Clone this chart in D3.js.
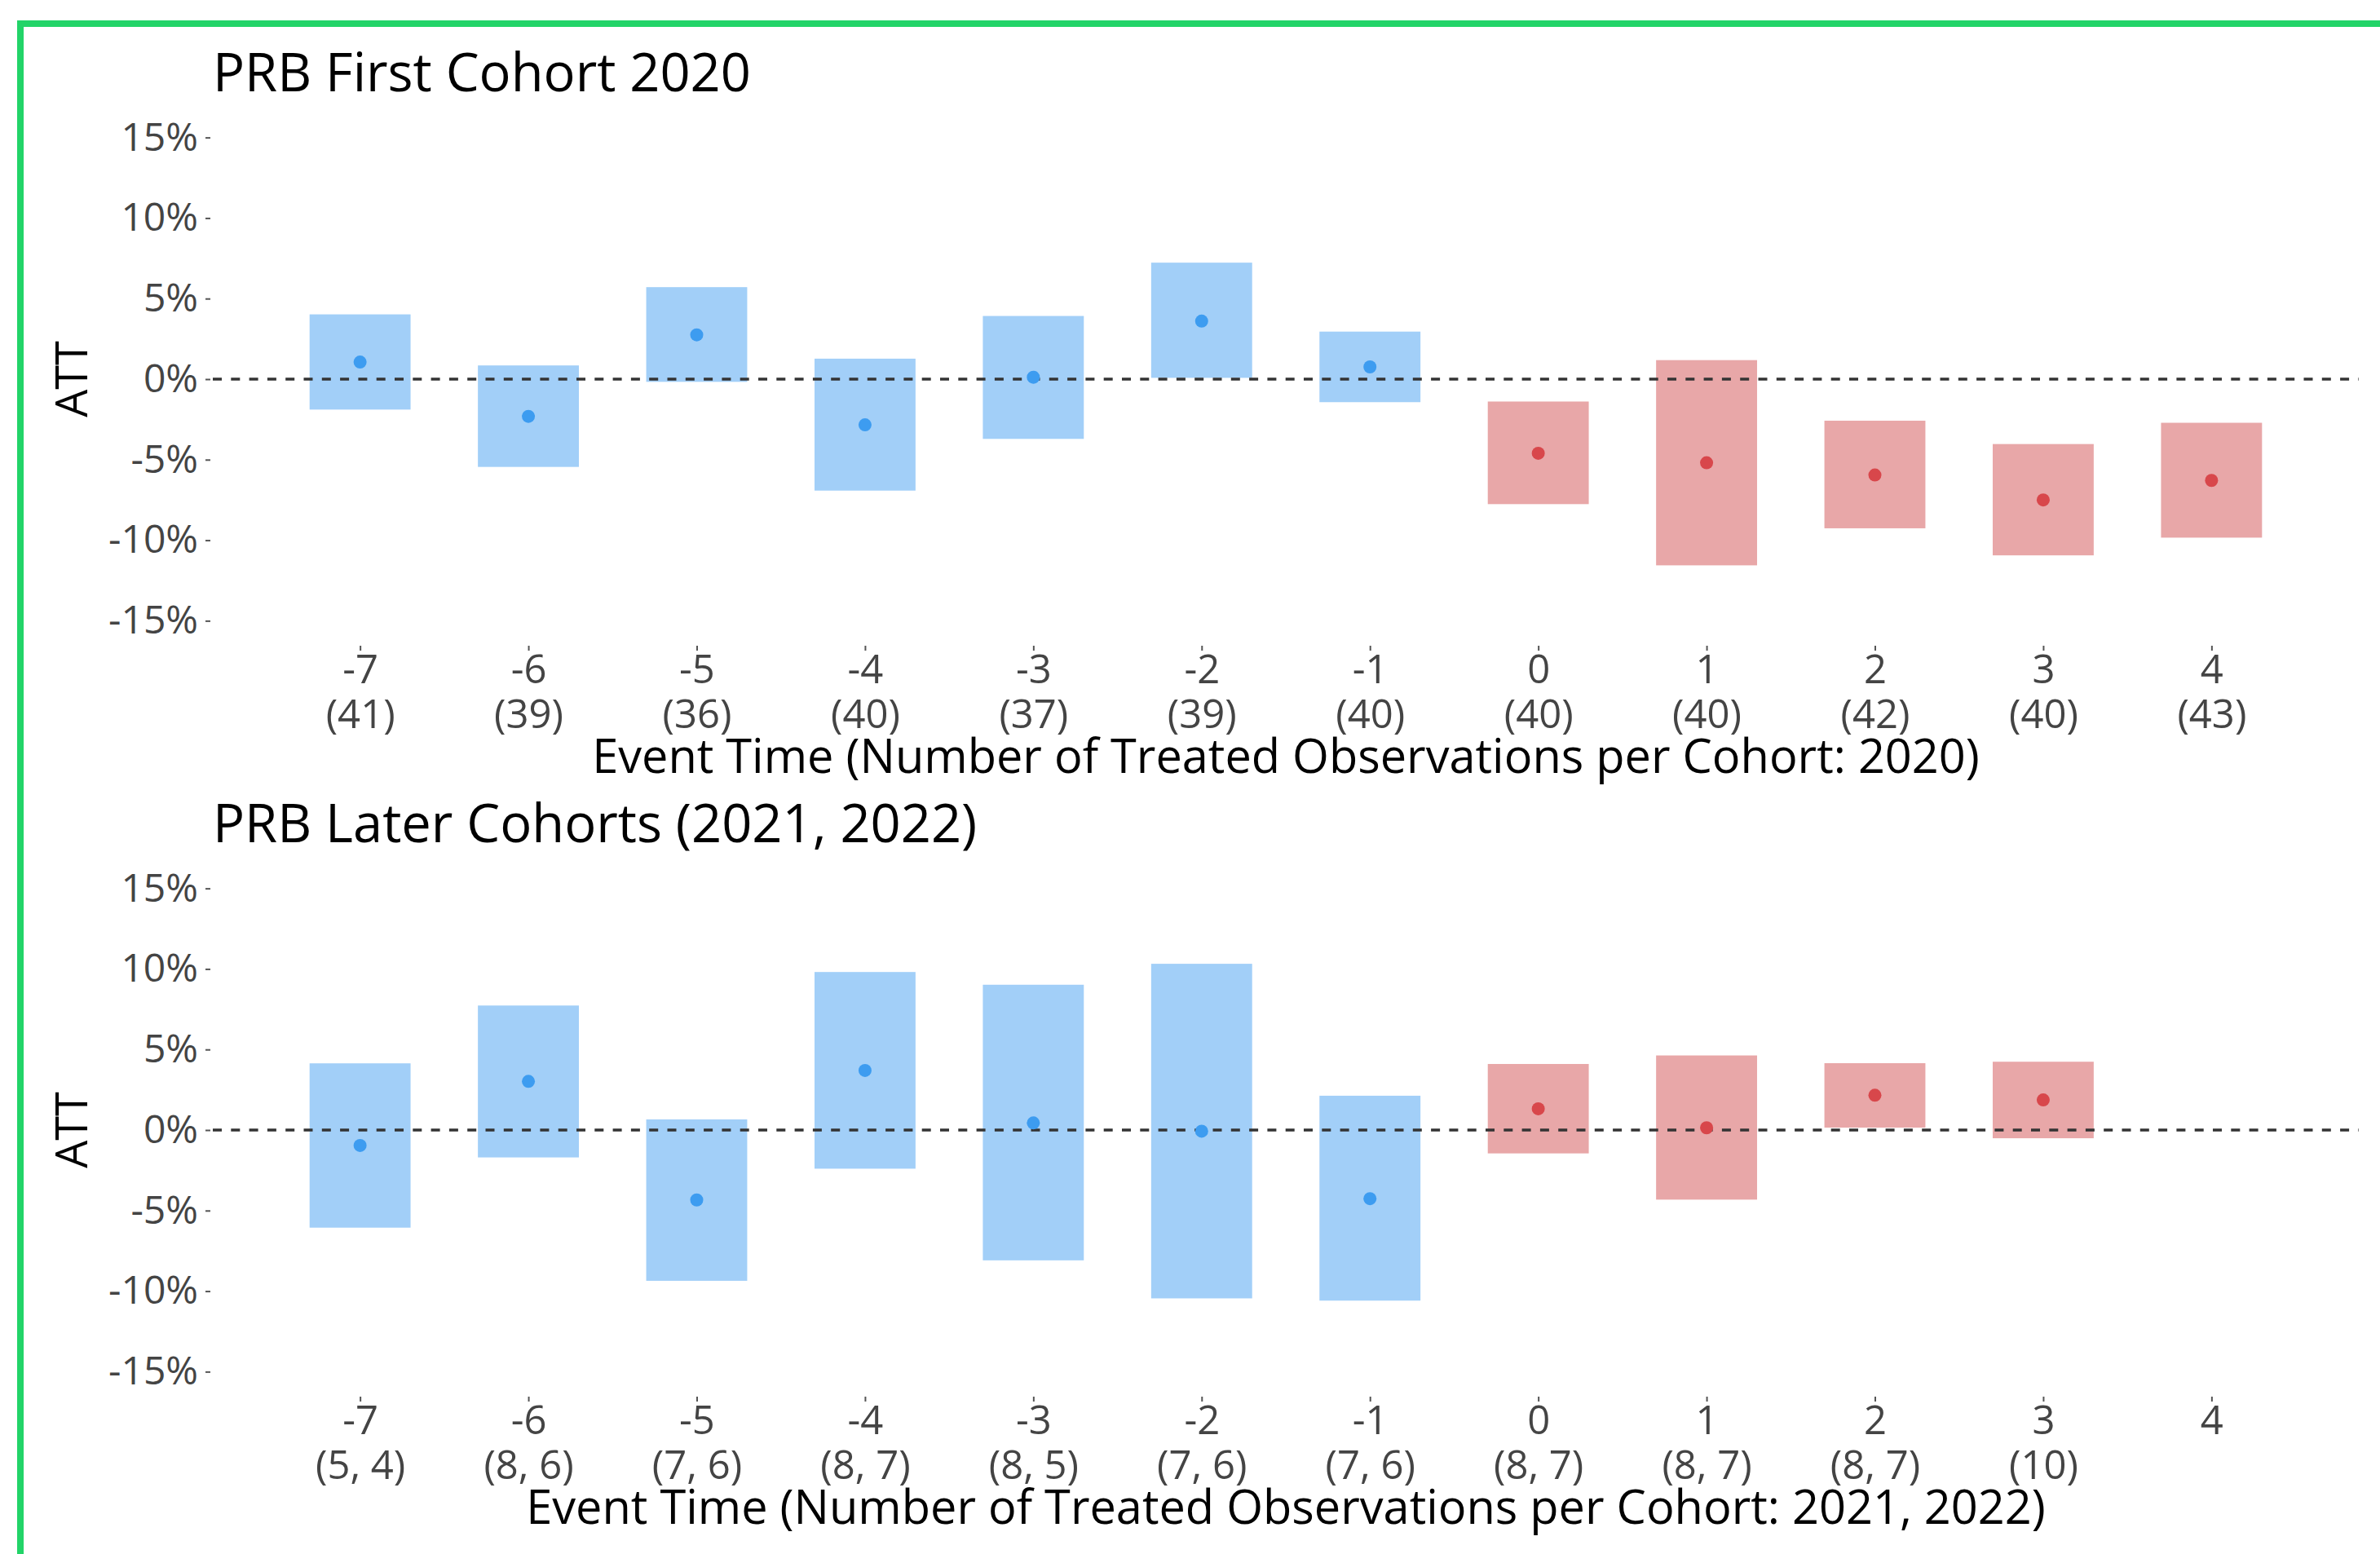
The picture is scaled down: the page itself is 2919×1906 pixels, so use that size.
<!DOCTYPE html>
<html>
<head>
<meta charset="utf-8">
<script src="https://cdn.jsdelivr.net/npm/d3@7"></script>
<style>
  body { margin: 0; background: #fff; }
  svg text { font-family: 'Open Sans', 'Noto Sans', sans-serif; }
</style>
</head>
<body>
<svg id="chart"></svg>
<script>
// event time categories
const eventTimes = [-7, -6, -5, -4, -3, -2, -1, 0, 1, 2, 3, 4];
const yTicks = [-15, -10, -5, 0, 5, 10, 15];

// first cohort (2020)
const firstCounts = ["(41)", "(39)", "(36)", "(40)", "(37)", "(39)", "(40)", "(40)", "(40)", "(42)", "(40)", "(43)"];
const firstEst  = [1.06, -2.31, 2.75, -2.84, 0.12, 3.60, 0.76, -4.60, -5.19, -5.95, -7.50, -6.29];
const firstLow  = [-1.89, -5.45, -0.17, -6.92, -3.71, 0.08, -1.43, -7.76, -11.56, -9.26, -10.94, -9.84];
const firstHigh = [4.02, 0.85, 5.71, 1.27, 3.92, 7.23, 2.95, -1.39, 1.18, -2.58, -4.03, -2.71];

// later cohorts (2021, 2022)
const laterCounts = ["(5, 4)", "(8, 6)", "(7, 6)", "(8, 7)", "(8, 5)", "(7, 6)", "(7, 6)", "(8, 7)", "(8, 7)", "(8, 7)", "(10)", ""];
const laterEst  = [-0.96, 3.02, -4.34, 3.70, 0.44, -0.07, -4.26, 1.32, 0.14, 2.16, 1.87, null];
const laterLow  = [-6.06, -1.70, -9.36, -2.40, -8.09, -10.45, -10.59, -1.45, -4.32, 0.15, -0.51, null];
const laterHigh = [4.14, 7.73, 0.66, 9.81, 9.02, 10.32, 2.13, 4.10, 4.63, 4.15, 4.24, null];

class EventPanel{

      constructor(config, data){
            this.config = {
                  parent: config.parent,
                  top: config.top || 0,
                  title: config.title || '',
                  xlabel: config.xlabel || '',
                  margin: {top:139, left:261, right:26, height:652}
            }
            this.data = data;
            this.init();
      }

      init(){
            let self = this;
            const m = self.config.margin;

            self.g = self.config.parent.append('g')
                  .attr('transform', `translate(0, ${self.config.top})`);

            self.xscale = d3.scaleLinear()
                  .domain([-7.875, 4.875])
                  .range([m.left, 2919 - m.right]);

            self.yscale = d3.scaleLinear()
                  .domain([-16.5, 16.5])
                  .range([m.top + m.height, m.top]);

            self.g.append('text')
                  .attr('x', m.left)
                  .attr('y', 112)
                  .style('font-size', '65px')
                  .attr('fill', '#000')
                  .text(self.config.title);

            self.g.append('text')
                  .attr('transform', `translate(107, ${self.yscale(0)}) rotate(-90)`)
                  .attr('text-anchor', 'middle')
                  .style('font-size', '54px')
                  .attr('fill', '#000')
                  .text('ATT');

            self.g.append('text')
                  .attr('x', (self.xscale.range()[0] + self.xscale.range()[1]) / 2)
                  .attr('y', m.top + m.height + 157)
                  .attr('text-anchor', 'middle')
                  .style('font-size', '57.7px')
                  .attr('fill', '#000')
                  .text(self.config.xlabel);
      }

      render(){
            let self = this;
            const m = self.config.margin;
            const rows = eventTimes.map((t, i) => ({
                  t: t, n: self.data.counts[i], est: self.data.est[i],
                  low: self.data.low[i], high: self.data.high[i]
            }));
            const shown = rows.filter(d => d.est !== null);
            const half = 0.3;
            const fillBar = d => d.t >= 0 ? '#e8a7a8' : '#a2cff8';
            const fillDot = d => d.t >= 0 ? '#d8474b' : '#3d9cf0';

            // y axis
            const yaxis = d3.axisLeft(self.yscale)
                  .tickValues(yTicks)
                  .tickSize(6)
                  .tickPadding(9)
                  .tickFormat(d => d + '%');
            const yg = self.g.append('g')
                  .attr('transform', `translate(${m.left - 3}, 0)`)
                  .call(yaxis);
            yg.select('.domain').remove();
            yg.selectAll('line').attr('stroke', '#555').attr('stroke-width', 2);
            yg.selectAll('text')
                  .attr('fill', '#444')
                  .style('font-size', '48px');

            // x axis: event time on one line, treated counts on the next
            const xaxis = d3.axisBottom(self.xscale)
                  .tickValues(eventTimes)
                  .tickSize(6)
                  .tickFormat('');
            const xg = self.g.append('g')
                  .attr('transform', `translate(0, ${m.top + m.height + 1})`)
                  .call(xaxis);
            xg.select('.domain').remove();
            xg.selectAll('line').attr('stroke', '#555').attr('stroke-width', 2);
            xg.selectAll('.tick').each(function(t, i){
                  const tick = d3.select(this);
                  tick.append('text')
                        .attr('text-anchor', 'middle')
                        .attr('fill', '#444')
                        .attr('y', 46)
                        .style('font-size', '49px')
                        .text(t);
                  tick.append('text')
                        .attr('text-anchor', 'middle')
                        .attr('fill', '#444')
                        .attr('y', 101)
                        .style('font-size', '49px')
                        .text(rows[i].n);
            });

            // confidence boxes
            self.g.selectAll('rect.ci')
                  .data(shown)
                  .join('rect')
                  .attr('class', 'ci')
                  .attr('x', d => self.xscale(d.t - half))
                  .attr('width', d => self.xscale(d.t + half) - self.xscale(d.t - half))
                  .attr('y', d => self.yscale(d.high))
                  .attr('height', d => self.yscale(d.low) - self.yscale(d.high))
                  .attr('fill', fillBar);

            // zero reference line
            self.g.append('line')
                  .attr('x1', self.xscale.range()[0])
                  .attr('x2', self.xscale.range()[1])
                  .attr('y1', self.yscale(0))
                  .attr('y2', self.yscale(0))
                  .attr('stroke', '#333')
                  .attr('stroke-width', 3.5)
                  .attr('stroke-dasharray', '11,11.3');

            // point estimates
            self.g.selectAll('circle.est')
                  .data(shown)
                  .join('circle')
                  .attr('class', 'est')
                  .attr('cx', d => self.xscale(d.t))
                  .attr('cy', d => self.yscale(d.est))
                  .attr('r', 8)
                  .attr('fill', fillDot);
      }
}

const svg = d3.select('#chart')
      .attr('width', 2919)
      .attr('height', 1906)
      .style('display', 'block');

svg.append('rect')
      .attr('width', 2919).attr('height', 1906)
      .attr('fill', '#fff');

const first = new EventPanel({
      parent: svg, top: 0,
      title: 'PRB First Cohort 2020',
      xlabel: 'Event Time (Number of Treated Observations per Cohort: 2020)'
}, {counts: firstCounts, est: firstEst, low: firstLow, high: firstHigh});
first.render();

const later = new EventPanel({
      parent: svg, top: 921,
      title: 'PRB Later Cohorts (2021, 2022)',
      xlabel: 'Event Time (Number of Treated Observations per Cohort: 2021, 2022)'
}, {counts: laterCounts, est: laterEst, low: laterLow, high: laterHigh});
later.render();

// green frame, cropped at right and bottom like the screenshot
svg.append('rect')
      .attr('x', 25).attr('y', 29)
      .attr('width', 3000).attr('height', 2000)
      .attr('fill', 'none')
      .attr('stroke', '#22d468')
      .attr('stroke-width', 8);
</script>
</body>
</html>
